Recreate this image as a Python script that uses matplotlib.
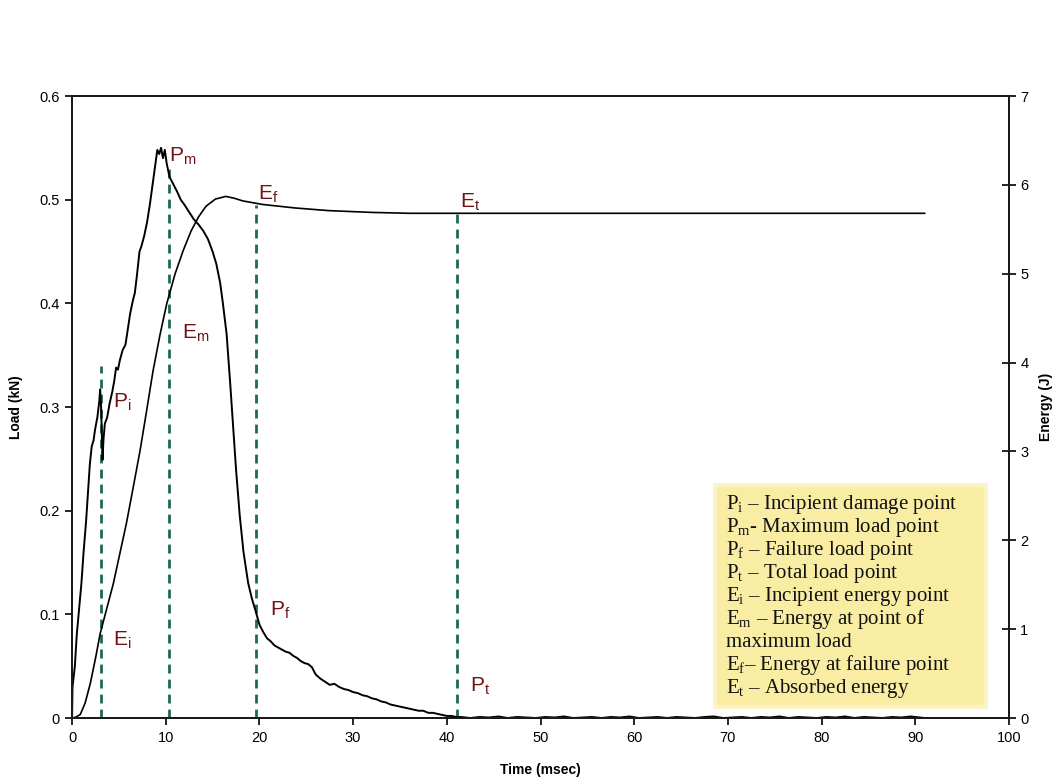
import numpy as np
import matplotlib
matplotlib.use("Agg")
import matplotlib.pyplot as plt
from matplotlib.patches import Rectangle

plt.rcParams['font.family'] = ['Liberation Sans', 'DejaVu Sans']
plt.rcParams['mathtext.fontset'] = 'custom'
plt.rcParams['mathtext.rm'] = 'Liberation Serif'
plt.rcParams['mathtext.sf'] = 'Liberation Sans'
plt.rcParams['mathtext.it'] = 'Liberation Serif:italic'

# load-time trace (msec, kN)
load_t = [0.0, 0.05, 0.3, 0.5, 0.8, 1.0, 1.23, 1.5, 1.76, 1.9, 2.1, 2.3, 2.45, 2.7, 2.9, 3.0,
          3.1, 3.25, 3.35, 3.5, 3.75, 4.0, 4.3, 4.5, 4.7, 4.9, 5.1, 5.4, 5.7, 5.9, 6.2, 6.5,
          6.7, 6.9, 7.2, 7.4, 7.7, 8.0, 8.3, 8.6, 8.9, 9.1, 9.3, 9.5, 9.7, 9.9, 10.1, 10.4,
          10.8, 11.2, 11.6, 12.0, 12.5, 13.0, 13.5, 14.0, 14.5, 15.0, 15.4, 15.8, 16.1, 16.5,
          16.9, 17.2, 17.5, 17.9, 18.3, 18.8, 19.2, 19.6, 20.0, 20.4, 20.8, 21.2, 21.6, 22.0,
          22.4, 22.8, 23.2, 23.6, 24.0, 24.4, 24.8, 25.2, 25.6, 26.0, 26.5, 27.0, 27.5, 28.0,
          28.5, 29.0, 29.5, 30.0, 30.5, 31.0, 31.5, 32.0, 32.5, 33.0, 33.5, 34.0, 34.5, 35.0,
          35.5, 36.0, 36.5, 37.0, 37.5, 38.0, 38.5, 39.0, 39.5, 40.0, 40.5, 41.0]
load_kn = [0.0, 0.03, 0.05, 0.08, 0.11, 0.13, 0.16, 0.19, 0.225, 0.245, 0.262, 0.268, 0.278, 0.29, 0.305, 0.317,
           0.30, 0.249, 0.268, 0.284, 0.29, 0.303, 0.315, 0.325, 0.338, 0.336, 0.345, 0.355, 0.36, 0.372, 0.39, 0.403,
           0.41, 0.425, 0.45, 0.455, 0.465, 0.478, 0.495, 0.515, 0.535, 0.548, 0.544, 0.55, 0.54, 0.548, 0.535, 0.522,
           0.515, 0.508, 0.50, 0.495, 0.488, 0.481, 0.476, 0.47, 0.462, 0.45, 0.438, 0.42, 0.40, 0.37,
           0.32, 0.28, 0.24, 0.195, 0.16, 0.13, 0.115, 0.103, 0.09, 0.083, 0.077, 0.074, 0.07, 0.068,
           0.066, 0.064, 0.063, 0.06, 0.058, 0.055, 0.053, 0.052, 0.049, 0.042, 0.038, 0.035, 0.032, 0.033,
           0.03, 0.028, 0.027, 0.025, 0.024, 0.022, 0.021, 0.019, 0.018, 0.016, 0.015, 0.013, 0.012, 0.011,
           0.01, 0.009, 0.008, 0.007, 0.007, 0.005, 0.005, 0.004, 0.003, 0.002, 0.002, 0.001]
# noisy tail after total load point
tail_t = [41.5, 42.5, 43.5, 44.5, 45.5, 46.5, 47.5, 48.5, 49.5, 50.5, 51.5, 52.5, 53.5, 54.5, 55.5,
          56.5, 57.5, 58.5, 59.5, 60.5, 61.5, 62.5, 63.5, 64.5, 65.5, 66.5, 67.5, 68.5, 69.5, 70.5,
          71.5, 72.5, 73.5, 74.5, 75.5, 76.5, 77.5, 78.5, 79.5, 80.5, 81.5, 82.5, 83.5, 84.5, 85.5,
          86.5, 87.5, 88.5, 89.5, 90.5, 91.0]
tail_kn = [0.001, 0.0, 0.001, 0.0005, 0.0015, 0.0, 0.001, 0.0005, 0.0, 0.001, 0.0005, 0.0015, 0.0, 0.0005, 0.001,
           0.0, 0.001, 0.0005, 0.0015, 0.0, 0.0005, 0.001, 0.0, 0.001, 0.0005, 0.0, 0.001, 0.0015, 0.0, 0.0005,
           0.001, 0.0, 0.001, 0.0005, 0.0015, 0.0, 0.001, 0.0005, 0.0, 0.001, 0.0005, 0.0015, 0.0, 0.001, 0.0005,
           0.0, 0.001, 0.0005, 0.0015, 0.0005, 0.0]

# energy-time trace (msec, J)
energy_t = [0.0, 0.4, 0.88, 1.4, 1.95, 2.5, 3.0, 3.7, 4.4, 5.1, 5.8, 6.5, 7.26, 7.9, 8.65, 9.4,
            10.1, 11.0, 11.86, 12.7, 13.5, 14.3, 15.3, 16.4, 17.3, 18.2, 20.3, 23.8, 27.4, 32.0,
            36.0, 40.0, 50.0, 60.0, 70.0, 80.0, 91.0]
energy_j = [0.0, 0.01, 0.04, 0.17, 0.39, 0.67, 0.95, 1.23, 1.51, 1.85, 2.19, 2.58, 3.01, 3.42, 3.91, 4.32,
            4.66, 5.0, 5.26, 5.48, 5.64, 5.76, 5.84, 5.87, 5.85, 5.82, 5.78, 5.74, 5.71, 5.69,
            5.68, 5.68, 5.68, 5.68, 5.68, 5.68, 5.68]

# characteristic points: (time, top of marker in kN)
mark_t = [3.1, 10.3, 19.6, 41.1]
mark_top = [0.34, 0.535, 0.495, 0.488]

labels = [(r'$\mathsf{P_m}$', 10.4, 0.537), (r'$\mathsf{E_f}$', 19.8, 0.50),
          (r'$\mathsf{E_t}$', 41.4, 0.492), (r'$\mathsf{E_m}$', 11.7, 0.366),
          (r'$\mathsf{P_i}$', 4.4, 0.299), (r'$\mathsf{E_i}$', 4.4, 0.07),
          (r'$\mathsf{P_f}$', 21.1, 0.099), (r'$\mathsf{P_t}$', 42.5, 0.025)]

key_lines = ['P$_\\mathrm{i}$ \u2013 Incipient damage point',
             'P$_\\mathrm{m}$- Maximum load point',
             'P$_\\mathrm{f}$ \u2013 Failure load point',
             'P$_\\mathrm{t}$ \u2013 Total load point',
             'E$_\\mathrm{i}$ \u2013 Incipient energy point',
             'E$_\\mathrm{m}$ \u2013 Energy at point of',
             'maximum load',
             'E$_\\mathrm{f}$\u2013 Energy at failure point',
             'E$_\\mathrm{t}$ \u2013 Absorbed energy']

fig = plt.figure(figsize=(10.58, 7.78), dpi=100)
ax = fig.add_axes([0.0681, 0.0771, 0.8856, 0.7995])
ax2 = ax.twinx()

ax.plot(load_t + tail_t, load_kn + tail_kn, color='black', lw=1.4, zorder=3)
ax2.plot(energy_t, energy_j, color='black', lw=1.2)

dark_green = '#1e6b4b'
for t, top in zip(mark_t, mark_top):
    ax.plot([t, t], [0, top], color=dark_green, lw=2.0, dashes=(3.2, 2.2), zorder=2)

for txt, x, y in labels:
    ax.text(x, y, txt, color='#6e1212', fontsize=15, va='baseline', ha='left')

ax.set_xlim(0, 100)
ax.set_ylim(0, 0.6)
ax2.set_ylim(0, 7)
ax.set_xticks(np.arange(0, 101, 10))
ax.set_yticks([0, 0.1, 0.2, 0.3, 0.4, 0.5, 0.6])
ax.set_yticklabels(['0', '0.1', '0.2', '0.3', '0.4', '0.5', '0.6'])
ax2.set_yticks(range(0, 8))

for a in (ax, ax2):
    for s in a.spines.values():
        s.set_linewidth(1.4)
        s.set_color('#1a1a1a')
ax.tick_params(axis='both', direction='out', length=5, width=1.2, labelsize=10.5, pad=4)
ax2.tick_params(axis='y', direction='inout', length=10, width=1.2, labelsize=10.5, pad=3)

ax.set_xlabel('Time (msec)', fontsize=10, fontweight='bold', labelpad=13)
ax.set_ylabel('Load (kN)', fontsize=10, fontweight='bold', labelpad=12)
ax2.set_ylabel('Energy (J)', fontsize=10, fontweight='bold', labelpad=8)

# key box
ax.add_patch(Rectangle((0.686, 0.0177), 0.289, 0.357, transform=ax.transAxes,
                       facecolor='#f9eda3', edgecolor='#fbf3c8', lw=3, zorder=4))
for i, line in enumerate(key_lines):
    yb = (718 - (509.3 + 22.9 * i)) / 622
    ax.text(0.698, yb, line, transform=ax.transAxes, fontsize=15,
            family='Liberation Serif', color='#111111', va='baseline', ha='left', zorder=5)

fig.savefig('out.png', dpi=100)
